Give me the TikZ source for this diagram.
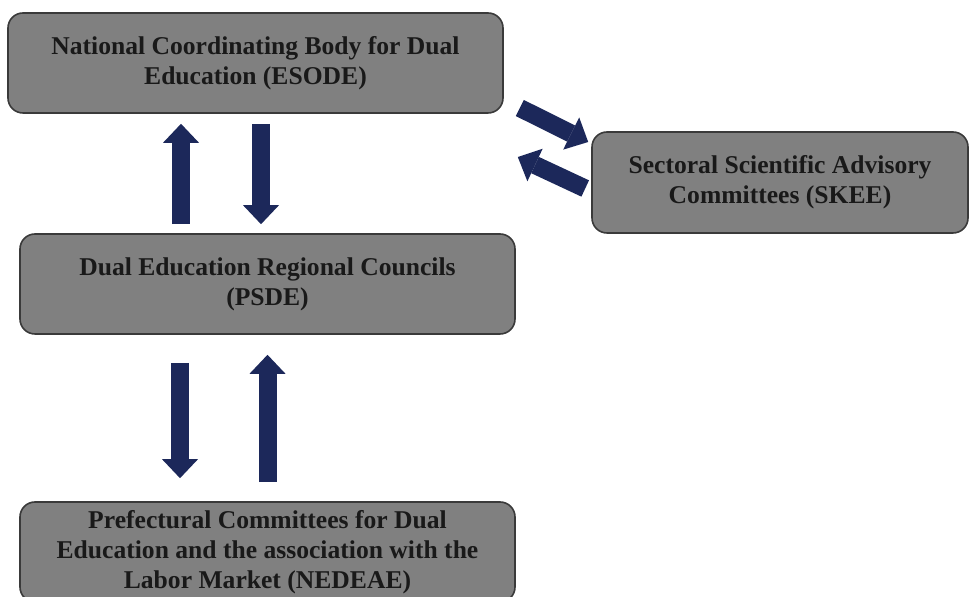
\documentclass[tikz,border=0pt]{standalone}
\usepackage{fontspec}
\setmainfont{Liberation Serif}
\usetikzlibrary{arrows.meta,calc}
\definecolor{boxgray}{RGB}{128,128,128}
\definecolor{boxline}{RGB}{58,58,58}
\definecolor{navyarrow}{RGB}{28,40,90}
\tikzset{
  boxstyle/.style={draw=boxline, line width=0.8pt, fill=boxgray, rounded corners=7.5pt,
    align=center, inner sep=0pt, text=black!90,
    font=\fontsize{12.8}{15}\selectfont\bfseries},
  widebox/.style={boxstyle, minimum width=247.5pt, minimum height=50pt},
  sidebox/.style={boxstyle, minimum width=188pt, minimum height=50.5pt},
  flowarrow/.style={navyarrow, line width=9pt,
    -{Triangle[width=18pt, length=9.5pt, line width=0pt]}}
}

\begin{document}
\begin{tikzpicture}[x=0.5pt, y=-0.5pt]
    \useasboundingbox (0,0) rectangle (969,597);
    % ---------------------
    \node[widebox] (esode) at (255.5,63)
      {National Coordinating Body for Dual\\Education (ESODE)};
    \node[sidebox] (skee) at (780,182.5)
      {Sectoral Scientific Advisory\\Committees (SKEE)};
    \node[widebox] (psde) at (267.5,284)
      {Dual Education Regional Councils\\(PSDE)};
    \node[widebox] (nedeae) at (267.5,552)
      {Prefectural Committees for Dual\\Education and the association with the\\Labor Market (NEDEAE)};
    % ---------------------
    \draw[flowarrow] ($(psde.north)+(-86.5,-9)$) -- ($(esode.south)+(-74.5,10)$);
    \draw[flowarrow] ($(esode.south)+(5.5,10)$) -- ($(psde.north)+(-6.5,-9)$);
    % ---------------------
    \draw[flowarrow] ($(psde.south)+(-87.5,28)$) -- ($(nedeae.north)+(-87.5,-23)$);
    \draw[flowarrow] ($(nedeae.north)+(0,-19)$) -- ($(psde.south)+(0,20)$);
    % ---------------------
    \draw[flowarrow] ($(esode.east)+(16,45)$) -- ($(skee.west)+(-3,-40.5)$);
    \draw[flowarrow] ($(skee.west)+(-6,6)$) -- ($(esode.east)+(14,94)$);
\end{tikzpicture}
\end{document}
